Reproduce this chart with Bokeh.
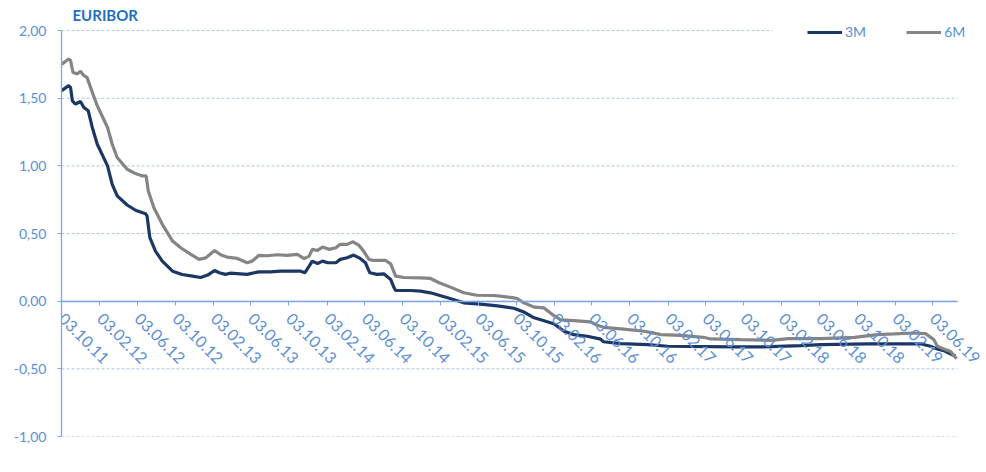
import math
import pandas as pd
from bokeh.plotting import figure
from bokeh.models import (Range1d, FixedTicker, CustomJSTickFormatter, Legend, LegendItem, Label,
                          BoxAnnotation)
from bokeh.embed import file_html
from bokeh.resources import INLINE

# ---------------- data ----------------
dates_3m = ["2011-10-03", "2011-10-26", "2011-11-01", "2011-11-07", "2011-11-17", "2011-12-03",
            "2011-12-14", "2011-12-28", "2012-01-10", "2012-01-26", "2012-02-28", "2012-03-14",
            "2012-03-30", "2012-05-01", "2012-05-28", "2012-06-29", "2012-07-04", "2012-07-13",
            "2012-07-31", "2012-08-22", "2012-09-24", "2012-10-25", "2012-11-27", "2012-12-23",
            "2013-01-15", "2013-02-06", "2013-02-21", "2013-03-13", "2013-03-28", "2013-05-22",
            "2013-06-28", "2013-08-05", "2013-09-07", "2013-10-09", "2013-11-10", "2013-11-23",
            "2013-12-07", "2013-12-17", "2014-01-03", "2014-01-19", "2014-02-05", "2014-03-03",
            "2014-03-17", "2014-04-08", "2014-04-29", "2014-05-20", "2014-06-06", "2014-06-20",
            "2014-07-13", "2014-08-04", "2014-08-26", "2014-09-06", "2014-09-11", "2014-10-29",
            "2014-11-30", "2015-01-01", "2015-02-25", "2015-04-18", "2015-06-11", "2015-08-04",
            "2015-09-26", "2015-10-28", "2015-11-30", "2016-01-01", "2016-02-03", "2016-03-05",
            "2016-04-06", "2016-05-19", "2016-07-01", "2016-07-10", "2016-09-04", "2016-11-29",
            "2017-02-01", "2017-09-03", "2017-12-08", "2018-04-05", "2018-06-10", "2018-11-06",
            "2019-04-25", "2019-05-27", "2019-06-18", "2019-07-09", "2019-07-20", "2019-08-16"]
euribor_3m = [1.556, 1.593, 1.58, 1.48, 1.457, 1.476,
              1.432, 1.407, 1.284, 1.16, 1.0, 0.864,
              0.778, 0.711, 0.672, 0.647, 0.63, 0.469,
              0.37, 0.296, 0.222, 0.197, 0.185, 0.175,
              0.193, 0.227, 0.21, 0.198, 0.207, 0.198,
              0.217, 0.217, 0.222, 0.222, 0.222, 0.21,
              0.259, 0.296, 0.279, 0.296, 0.284, 0.284,
              0.309, 0.321, 0.341, 0.316, 0.284, 0.21,
              0.198, 0.202, 0.161, 0.099, 0.079, 0.079,
              0.074, 0.062, 0.025, -0.012, -0.022, -0.035,
              -0.052, -0.08, -0.123, -0.145, -0.168, -0.222,
              -0.247, -0.259, -0.28, -0.30, -0.314, -0.321,
              -0.333, -0.338, -0.338, -0.328, -0.321, -0.315,
              -0.315, -0.333, -0.353, -0.365, -0.378, -0.407]

dates_6m = ["2011-10-03", "2011-10-26", "2011-11-01", "2011-11-09", "2011-11-23", "2011-12-03",
            "2011-12-14", "2011-12-24", "2012-01-10", "2012-01-26", "2012-02-28", "2012-03-14",
            "2012-03-30", "2012-05-01", "2012-05-28", "2012-06-19", "2012-07-01", "2012-07-08",
            "2012-07-26", "2012-08-22", "2012-09-24", "2012-10-20", "2012-11-22", "2012-12-18",
            "2013-01-09", "2013-02-06", "2013-02-27", "2013-03-18", "2013-04-20", "2013-05-22",
            "2013-06-07", "2013-06-28", "2013-07-25", "2013-08-27", "2013-09-28", "2013-10-30",
            "2013-11-21", "2013-12-07", "2013-12-17", "2014-01-03", "2014-01-19", "2014-02-10",
            "2014-03-03", "2014-03-17", "2014-04-08", "2014-04-27", "2014-05-15", "2014-05-31",
            "2014-06-17", "2014-07-02", "2014-08-10", "2014-08-26", "2014-09-11", "2014-10-08",
            "2014-11-30", "2015-01-01", "2015-01-29", "2015-03-06", "2015-04-18", "2015-05-30",
            "2015-07-23", "2015-08-14", "2015-09-26", "2015-10-07", "2015-10-28", "2015-11-30",
            "2016-01-01", "2016-01-28", "2016-02-24", "2016-04-06", "2016-05-29", "2016-06-20",
            "2016-07-11", "2016-09-04", "2016-11-18", "2017-01-11", "2017-03-15", "2017-05-28",
            "2017-06-19", "2017-09-24", "2018-01-01", "2018-02-24", "2018-06-10", "2018-09-25",
            "2018-12-08", "2019-01-30", "2019-04-04", "2019-05-11", "2019-06-07", "2019-06-18",
            "2019-07-14", "2019-07-30", "2019-08-19"]
euribor_6m = [1.75, 1.79, 1.78, 1.69, 1.68, 1.70,
              1.667, 1.654, 1.543, 1.444, 1.284, 1.16,
              1.062, 0.975, 0.943, 0.926, 0.926, 0.815,
              0.69, 0.568, 0.444, 0.395, 0.346, 0.309,
              0.32, 0.375, 0.341, 0.326, 0.316, 0.284,
              0.296, 0.338, 0.336, 0.343, 0.338, 0.346,
              0.314, 0.333, 0.383, 0.375, 0.40, 0.383,
              0.395, 0.42, 0.42, 0.439, 0.415, 0.37,
              0.309, 0.301, 0.301, 0.276, 0.185, 0.175,
              0.173, 0.168, 0.136, 0.104, 0.062, 0.044,
              0.042, 0.037, 0.025, 0.02, -0.012, -0.044,
              -0.05, -0.099, -0.138, -0.143, -0.153, -0.178,
              -0.193, -0.205, -0.222, -0.247, -0.252, -0.267,
              -0.279, -0.284, -0.289, -0.277, -0.277, -0.267,
              -0.247, -0.242, -0.235, -0.239, -0.284, -0.333,
              -0.358, -0.37, -0.425]

tick_dates = ["2011-10-03", "2012-02-03", "2012-06-03", "2012-10-03", "2013-02-03", "2013-06-03",
              "2013-10-03", "2014-02-03", "2014-06-03", "2014-10-03", "2015-02-03", "2015-06-03",
              "2015-10-03", "2016-02-03", "2016-06-03", "2016-10-03", "2017-02-03", "2017-06-03",
              "2017-10-03", "2018-02-03", "2018-06-03", "2018-10-03", "2019-02-03", "2019-06-03"]
tick_labels = ["03.10.11", "03.02.12", "03.06.12", "03.10.12", "03.02.13", "03.06.13",
               "03.10.13", "03.02.14", "03.06.14", "03.10.14", "03.02.15", "03.06.15",
               "03.10.15", "03.02.16", "03.06.16", "03.10.16", "03.02.17", "03.06.17",
               "03.10.17", "03.02.18", "03.06.18", "03.10.18", "03.02.19", "03.06.19"]
y_ticks = [-1.0, -0.5, 0.0, 0.5, 1.0, 1.5, 2.0]
series_names = ["3M", "6M"]
title_text = "EURIBOR"
axis_start = "2011-10-03"
axis_end = "2019-08-22"

# ---------------- style ----------------
FONT = "Lato"
LABEL_COLOR = "#5B8FD6"
AXIS_COLOR = "#7EA6E0"
GRID_COLOR = "#AFC6EA"
C3M = "#1B3764"
C6M = "#858585"

def ms(s):
    return pd.Timestamp(s).value / 1e6

x_start = ms(axis_start)
x_stop = ms(axis_end)
# frame extends past the axis end, so the last rotated label has room
x_view_end = x_stop + (x_stop - x_start) * (29.0 / 896.0)
y_top = 2.0 + 30.0 / 135.0   # frame extends above the 2,00 line (room for title/legend)

p = figure(width=986, height=456, x_axis_type="datetime",
           x_range=Range1d(x_start, x_view_end), y_range=Range1d(-1.0, y_top),
           output_backend="svg", toolbar_location=None,
           min_border_left=61, min_border_right=0, min_border_top=0, min_border_bottom=20)
p.outline_line_color = None
p.background_fill_color = "white"
p.border_fill_color = "white"

# horizontal grid lines, limited to the axis extent
n = len(y_ticks)
p.segment(x0=[x_start] * n, y0=y_ticks, x1=[x_stop] * n, y1=y_ticks,
          line_color=GRID_COLOR, line_dash="3 2", line_width=1, level="underlay")

r3 = p.line(pd.to_datetime(dates_3m), euribor_3m, line_color=C3M, line_width=3.2)
r6 = p.line(pd.to_datetime(dates_6m), euribor_6m, line_color=C6M, line_width=3.2)

# x axis at y = 0
tick_ms = [ms(d) for d in tick_dates]
xa = p.xaxis[0]
xa.fixed_location = 0
xa.bounds = (x_start, x_stop)
xa.ticker = FixedTicker(ticks=tick_ms)
xa.major_label_overrides = {t: lab for t, lab in zip(tick_ms, tick_labels)}
xa.major_label_orientation = -math.pi / 4
xa.major_label_text_font = FONT
xa.major_label_text_font_size = "16px"
xa.major_label_text_color = LABEL_COLOR
xa.major_label_standoff = 11
xa.axis_line_color = AXIS_COLOR
xa.axis_line_width = 1.3
xa.major_tick_line_color = AXIS_COLOR
xa.major_tick_in = 0
xa.major_tick_out = 4
xa.minor_tick_line_color = None

ya = p.yaxis[0]
ya.bounds = (-1.0, 2.0)
ya.ticker = FixedTicker(ticks=y_ticks)
ya.formatter = CustomJSTickFormatter(code="return tick.toFixed(2).replace('.', ',');")
ya.major_label_text_font = FONT
ya.major_label_text_font_size = "14px"
ya.major_label_text_color = LABEL_COLOR
ya.major_label_standoff = 11
ya.axis_line_color = AXIS_COLOR
ya.axis_line_width = 1.3
ya.major_tick_line_color = AXIS_COLOR
ya.major_tick_in = 0
ya.major_tick_out = 4
ya.minor_tick_line_color = None

p.xgrid.grid_line_color = None
p.ygrid.grid_line_color = None

# white panel behind the legend (hides the top grid line there)
legend_bg = BoxAnnotation(left=711, right=910, bottom=394, top=418,
                          left_units="screen", right_units="screen",
                          bottom_units="screen", top_units="screen",
                          fill_color="white", fill_alpha=1.0, line_color=None)
p.add_layout(legend_bg)

legend = Legend(items=[LegendItem(label=series_names[0], renderers=[r3]),
                       LegendItem(label=series_names[1], renderers=[r6])],
                orientation="horizontal", location=(746, 396),
                padding=10, spacing=40, label_standoff=3, glyph_width=35, glyph_height=16,
                label_height=16, margin=0,
                label_text_font=FONT, label_text_font_size="14px", label_text_color=LABEL_COLOR,
                background_fill_color="white", background_fill_alpha=1.0, border_line_color=None)
p.add_layout(legend)

title = Label(x=11, y=422, x_units="screen", y_units="screen", text=title_text,
              text_font=FONT, text_font_size="15px", text_font_style="bold",
              text_color="#1F6FBF", text_baseline="middle", text_align="left")
p.add_layout(title)

open("out.html", "w").write(file_html(p, INLINE))
